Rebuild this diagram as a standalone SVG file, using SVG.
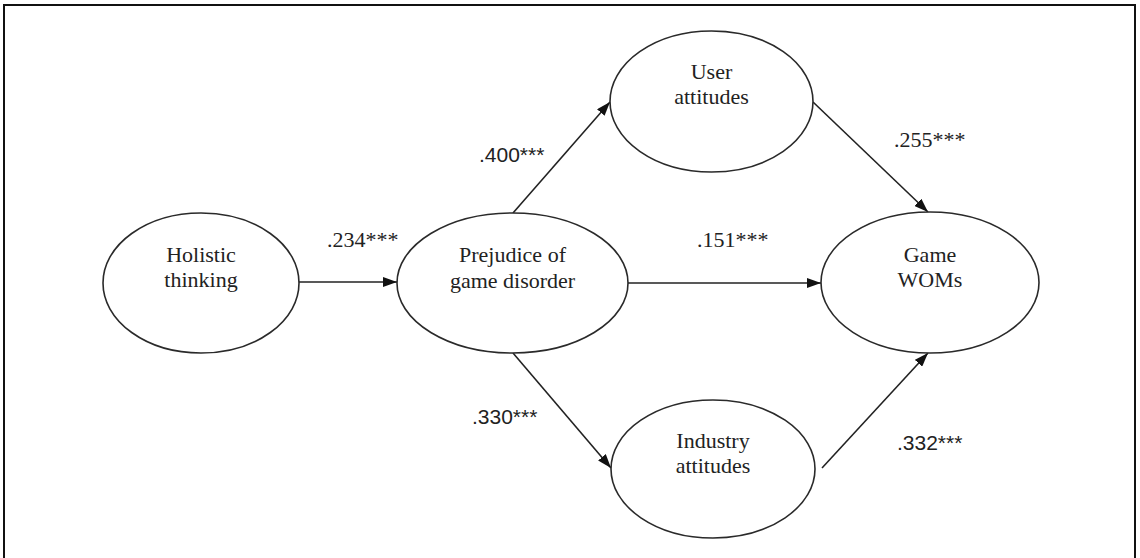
<svg xmlns="http://www.w3.org/2000/svg" width="1140" height="558" viewBox="0 0 1140 558">
<style>
.n{fill:#fff;stroke:#2a2a2a;stroke-width:1.6}
.t{font-family:'Liberation Serif','Times New Roman',serif;font-size:22px;fill:#222;text-anchor:middle}
.l{font-family:'Liberation Serif','Times New Roman',serif;font-size:22px;fill:#222}
.ls{font-family:'Liberation Sans',Arial,sans-serif;font-size:21px;fill:#222}
.c{stroke:#222;stroke-width:1.6;fill:none;marker-end:url(#ah)}
</style>
<defs>
<marker id="ah" viewBox="0 0 14 10" refX="14" refY="5" markerWidth="14" markerHeight="10" markerUnits="userSpaceOnUse" orient="auto">
<path d="M0,0 L14,5 L0,10 Z" fill="#111"/>
</marker>
</defs>
<rect x="0" y="0" width="1140" height="558" fill="#fff"/>
<rect x="4" y="5" width="1131" height="560" fill="none" stroke="#111" stroke-width="2"/>
<g id="connectors">
<line class="c" x1="299" y1="282" x2="397" y2="282"/>
<line class="c" x1="513" y1="213" x2="610" y2="102"/>
<line class="c" x1="513" y1="353" x2="611" y2="468"/>
<line class="c" x1="628" y1="283" x2="821" y2="283"/>
<line class="c" x1="813" y1="102" x2="928" y2="212"/>
<line class="c" x1="822" y1="468" x2="928" y2="353"/>
<text class="l" x="327" y="247">.234***</text>
<text class="ls" x="479" y="162">.400***</text>
<text class="l" x="697" y="247">.151***</text>
<text class="l" x="894" y="147">.255***</text>
<text class="ls" x="472" y="424">.330***</text>
<text class="ls" x="897" y="450">.332***</text>
</g>
<g id="holistic">
<ellipse class="n" cx="201" cy="283" rx="98" ry="70"/>
<text class="t" x="201" y="262">Holistic</text>
<text class="t" x="201" y="287">thinking</text>
</g>
<g id="prejudice">
<ellipse class="n" cx="512.5" cy="283" rx="115.5" ry="70"/>
<text class="t" x="512.5" y="262">Prejudice of</text>
<text class="t" x="512.5" y="288">game disorder</text>
</g>
<g id="user">
<ellipse class="n" cx="711.5" cy="101.5" rx="101.5" ry="70.5"/>
<text class="t" x="711.5" y="79">User</text>
<text class="t" x="711.5" y="104">attitudes</text>
</g>
<g id="industry">
<ellipse class="n" cx="713" cy="469" rx="102" ry="69"/>
<text class="t" x="713" y="448">Industry</text>
<text class="t" x="713" y="473">attitudes</text>
</g>
<g id="woms">
<ellipse class="n" cx="930" cy="282.5" rx="109" ry="70.5"/>
<text class="t" x="930" y="262">Game</text>
<text class="t" x="930" y="287">WOMs</text>
</g>
</svg>
